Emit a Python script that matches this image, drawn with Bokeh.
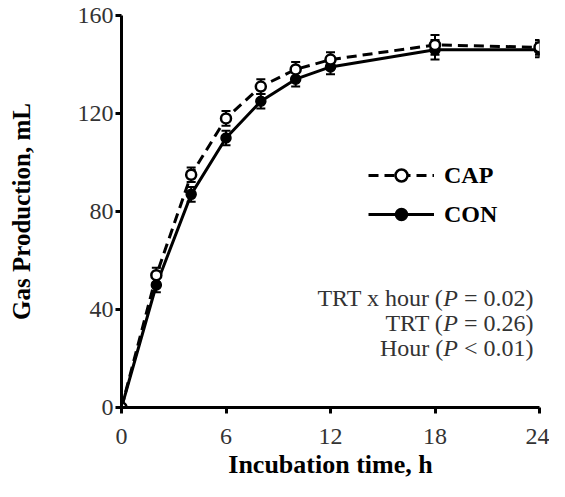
from bokeh.plotting import figure
from bokeh.models import (ColumnDataSource, FixedTicker, Range1d, Legend, LegendItem,
                          Label, Whisker)
from bokeh.embed import file_html
from bokeh.resources import INLINE

# ---- data ----
hours = [0, 2, 4, 6, 8, 10, 12, 18, 24]
cap = [0, 54, 95, 118, 131, 138, 142, 148, 147]
con = [0, 50, 87, 110, 125, 134, 139, 146, 146]
cap_se = [0, 3, 3, 3, 3, 3, 3, 4, 3]
con_se = [0, 3, 3, 3, 3, 3, 3, 4, 3]
x_ticks = [0, 6, 12, 18, 24]
y_ticks = [0, 40, 80, 120, 160]
stats_lines = [("TRT x hour (", "P", "\u00a0=\u00a00.02)"),
               ("TRT (", "P", "\u00a0=\u00a00.26)"),
               ("Hour (", "P", "\u00a0<\u00a00.01)")]

FONT = "Liberation Serif"

src_cap = ColumnDataSource(dict(x=hours, y=cap,
                                lo=[v - s for v, s in zip(cap, cap_se)],
                                hi=[v + s for v, s in zip(cap, cap_se)]))
src_con = ColumnDataSource(dict(x=hours, y=con,
                                lo=[v - s for v, s in zip(con, con_se)],
                                hi=[v + s for v, s in zip(con, con_se)]))

p = figure(width=549, height=481, output_backend="svg", toolbar_location=None,
           x_range=Range1d(0, 24), y_range=Range1d(0, 160),
           min_border_left=121, min_border_right=10, min_border_top=15,
           min_border_bottom=68)
p.outline_line_color = None
p.xgrid.visible = False
p.ygrid.visible = False

for ax in (p.xaxis[0], p.yaxis[0]):
    ax.axis_line_width = 3
    ax.axis_line_color = "black"
    ax.major_tick_line_width = 3
    ax.major_tick_line_color = "black"
    ax.major_tick_out = 6
    ax.major_tick_in = 0
    ax.minor_tick_line_color = None
    ax.major_label_text_font = FONT
    ax.major_label_text_font_size = "24px"
    ax.major_label_text_color = "#333333"
    ax.axis_label_text_font = FONT
    ax.axis_label_text_font_style = "bold"
    ax.axis_label_text_color = "black"

p.xaxis[0].axis_label_text_font_size = "26px"
p.yaxis[0].axis_label_text_font_size = "25px"
p.xaxis[0].ticker = FixedTicker(ticks=x_ticks)
p.yaxis[0].ticker = FixedTicker(ticks=y_ticks)
p.xaxis[0].axis_label = "Incubation time, h"
p.yaxis[0].axis_label = "Gas Production, mL"
p.xaxis[0].major_label_standoff = 15
p.yaxis[0].major_label_standoff = 2
p.xaxis[0].axis_label_standoff = 3
p.yaxis[0].axis_label_standoff = 40

# error bars
for src in (src_con, src_cap):
    w = Whisker(source=src, base="x", lower="lo", upper="hi", dimension="height",
                line_color="black", line_width=2)
    w.upper_head.size = 9
    w.lower_head.size = 9
    w.upper_head.line_width = 2
    w.lower_head.line_width = 2
    p.add_layout(w)

con_line = p.line("x", "y", source=src_con, line_color="black", line_width=3)
con_pts = p.scatter("x", "y", source=src_con, marker="circle", size=10,
                    fill_color="black", line_color="black", line_width=1.5)
cap_line = p.line("x", "y", source=src_cap, line_color="black", line_width=3,
                  line_dash="10 6")
cap_pts = p.scatter("x", "y", source=src_cap, marker="circle", size=10,
                    fill_color="white", line_color="black", line_width=2.5)

legend = Legend(items=[LegendItem(label="CAP", renderers=[cap_line, cap_pts]),
                       LegendItem(label="CON", renderers=[con_line, con_pts])],
                location=(247, 178), orientation="vertical",
                glyph_width=66, glyph_height=30, label_height=30,
                label_standoff=10, spacing=9, padding=0, margin=0,
                border_line_color=None, background_fill_alpha=0,
                label_text_font=FONT, label_text_font_size="24px",
                label_text_font_style="bold", label_text_color="black")
p.add_layout(legend, "center")

# statistics text (right aligned, italic P)
W_TAIL = 75.5
W_P = 14.7
right = 412
ys = [110, 85, 60]
for (a, b, c), yy in zip(stats_lines, ys):
    p.add_layout(Label(x=right, y=yy, x_units="screen", y_units="screen", text=c,
                       text_font=FONT, text_font_size="24px", text_color="#333333",
                       text_align="right", text_baseline="middle"))
    p.add_layout(Label(x=right - W_TAIL, y=yy, x_units="screen", y_units="screen",
                       text=b, text_font=FONT, text_font_size="24px",
                       text_font_style="italic", text_color="#333333",
                       text_align="right", text_baseline="middle"))
    p.add_layout(Label(x=right - W_TAIL - W_P, y=yy, x_units="screen",
                       y_units="screen", text=a, text_font=FONT,
                       text_font_size="24px", text_color="#333333",
                       text_align="right", text_baseline="middle"))

open("out.html", "w").write(file_html(p, INLINE))
